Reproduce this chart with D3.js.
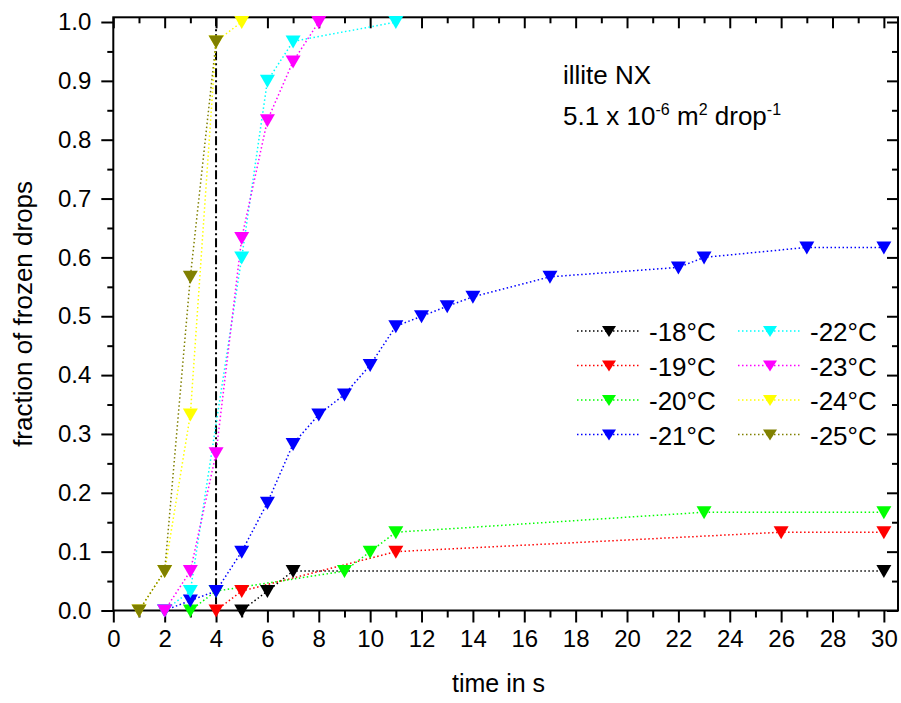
<!DOCTYPE html>
<html>
<head>
<meta charset="utf-8">
<script src="https://cdn.jsdelivr.net/npm/d3@7"></script>
<style>
  body { margin: 0; background: #fff; }
  text { font-family: "Liberation Sans", Arial, sans-serif; fill: #000; }
</style>
</head>
<body>
<svg id="chart" width="901" height="703"></svg>
<script>
// series: [time in s, fraction of frozen drops]
var temps = ["-18°C", "-19°C", "-20°C", "-21°C", "-22°C", "-23°C", "-24°C", "-25°C"];
var colors = ["#000000", "#ff0000", "#00ff00", "#0000ff", "#00ffff", "#ff00ff", "#ffff00", "#808000"];

var s18 = [[5, 0], [6, 0.033], [7, 0.067], [30, 0.067]];
var s19 = [[4, 0], [5, 0.033], [11, 0.1], [26, 0.133], [30, 0.133]];
var s20 = [[3, 0], [4, 0.033], [9, 0.067], [10, 0.1], [11, 0.133], [23, 0.167], [30, 0.167]];
var s21 = [[2, 0], [3, 0.017], [4, 0.033], [5, 0.1], [6, 0.183], [7, 0.283], [8, 0.333], [9, 0.367],
           [10, 0.417], [11, 0.483], [12, 0.5], [13, 0.517], [14, 0.533], [17, 0.567], [22, 0.583],
           [23, 0.6], [27, 0.617], [30, 0.617]];
var s22 = [[2, 0], [3, 0.033], [5, 0.6], [6, 0.9], [7, 0.967], [11, 1.0]];
var s23 = [[2, 0], [3, 0.067], [4, 0.267], [5, 0.633], [6, 0.833], [7, 0.933], [8, 1.0]];
var s24 = [[1, 0], [2, 0.067], [3, 0.333], [4, 0.967], [5, 1.0]];
var s25 = [[1, 0], [2, 0.067], [3, 0.567], [4, 0.967]];
var allSeries = [s18, s19, s20, s21, s22, s23, s24, s25];

var xMajor = d3.range(0, 31, 2);
var xMinor = d3.range(1, 31, 2);
var yMajor = d3.range(0, 11).map(function (i) { return i / 10; });
var yMinor = d3.range(0, 10).map(function (i) { return (2 * i + 1) / 20; });
var markerLine = 4; // dash-dot line at t = 4 s

var svg = d3.select("#chart");
var pL = 113.3, pR = 898, pT = 17.3, pB = 610.5;

var x = d3.scaleLinear().domain([0, 30.55]).range([pL, pR]);
var y = d3.scaleLinear().domain([0, 1.008]).range([pB, pT]);

// frame
svg.append("rect")
  .attr("x", pL).attr("y", pT)
  .attr("width", pR - pL).attr("height", pB - pT)
  .attr("fill", "none").attr("stroke", "#000").attr("stroke-width", 2);

// bottom axis (outward ticks, labels)
var gB = svg.append("g").attr("transform", "translate(0," + pB + ")");
gB.call(d3.axisBottom(x).tickValues(xMajor).tickSize(12).tickSizeOuter(0).tickPadding(7).tickFormat(d3.format("d")));
gB.append("g").call(d3.axisBottom(x).tickValues(xMinor).tickSize(7).tickSizeOuter(0).tickFormat(""));

// left axis
var gL = svg.append("g").attr("transform", "translate(" + pL + ",0)");
gL.call(d3.axisLeft(y).tickValues(yMajor).tickSize(12).tickSizeOuter(0).tickPadding(10).tickFormat(d3.format(".1f")));
gL.append("g").call(d3.axisLeft(y).tickValues(yMinor).tickSize(6).tickSizeOuter(0).tickFormat(""));

// top and right axes: inward ticks, no labels
var gT = svg.append("g").attr("transform", "translate(0," + pT + ")");
gT.call(d3.axisBottom(x).tickValues(xMajor).tickSize(11).tickSizeOuter(0).tickFormat(""));
gT.append("g").call(d3.axisBottom(x).tickValues(xMinor).tickSize(6).tickSizeOuter(0).tickFormat(""));
var gR = svg.append("g").attr("transform", "translate(" + pR + ",0)");
gR.call(d3.axisLeft(y).tickValues(yMajor).tickSize(11).tickSizeOuter(0).tickFormat(""));
gR.append("g").call(d3.axisLeft(y).tickValues(yMinor).tickSize(6).tickSizeOuter(0).tickFormat(""));

svg.selectAll(".domain").remove();
svg.selectAll(".tick line").attr("stroke", "#000").attr("stroke-width", 2);
svg.selectAll(".tick text").style("font-size", "24px").style("font-family", "Liberation Sans, Arial, sans-serif");

// vertical dash-dot line
svg.append("line")
  .attr("x1", x(markerLine)).attr("x2", x(markerLine))
  .attr("y1", pT).attr("y2", pB)
  .attr("stroke", "#000").attr("stroke-width", 2)
  .attr("stroke-dasharray", "9,3,2,3");

var line = d3.line().x(function (d) { return x(d[0]); }).y(function (d) { return y(d[1]); });
var tri = "M-7.5,-6L7.5,-6L0,7Z";

allSeries.forEach(function (s, i) {
  svg.append("path")
    .datum(s)
    .attr("d", line)
    .attr("fill", "none")
    .attr("stroke", colors[i])
    .attr("stroke-width", 1.5)
    .attr("stroke-dasharray", "1.5,2.5");
});
allSeries.forEach(function (s, i) {
  svg.append("g").selectAll("path")
    .data(s)
    .enter().append("path")
    .attr("d", tri)
    .attr("transform", function (d) { return "translate(" + x(d[0]) + "," + y(d[1]) + ")"; })
    .attr("fill", colors[i]);
});

// legend
var legend = svg.append("g");
temps.forEach(function (t, i) {
  var col = Math.floor(i / 4), row = i % 4;
  var lx = 577 + col * 161, ly = 331 + row * 34.5;
  legend.append("line")
    .attr("x1", lx).attr("x2", lx + 64).attr("y1", ly).attr("y2", ly)
    .attr("stroke", colors[i]).attr("stroke-width", 1.3)
    .attr("stroke-dasharray", "1.5,2.5");
  legend.append("path")
    .attr("d", "M-7,-5L7,-5L0,6Z")
    .attr("transform", "translate(" + (lx + 32) + "," + ly + ")")
    .attr("fill", colors[i]);
  legend.append("text")
    .attr("x", lx + 72).attr("y", ly + 10)
    .style("font-size", "26px")
    .text(t);
});

// annotation
svg.append("text").attr("x", 563).attr("y", 84).style("font-size", "26px").text("illite NX");
var ann = svg.append("text").attr("x", 563).attr("y", 125).style("font-size", "26px");
ann.append("tspan").text("5.1 x 10");
ann.append("tspan").attr("dy", -10).style("font-size", "16px").text("-6");
ann.append("tspan").attr("dy", 10).text(" m");
ann.append("tspan").attr("dy", -10).style("font-size", "16px").text("2");
ann.append("tspan").attr("dy", 10).text(" drop");
ann.append("tspan").attr("dy", -10).style("font-size", "16px").text("-1");

// axis titles
svg.append("text")
  .attr("x", x(15)).attr("y", 692)
  .attr("text-anchor", "middle")
  .style("font-size", "25px")
  .text("time in s");
svg.append("text")
  .attr("transform", "translate(32," + ((pT + pB) / 2) + ") rotate(-90)")
  .attr("text-anchor", "middle")
  .style("font-size", "26px")
  .text("fraction of frozen drops");
</script>
</body>
</html>
